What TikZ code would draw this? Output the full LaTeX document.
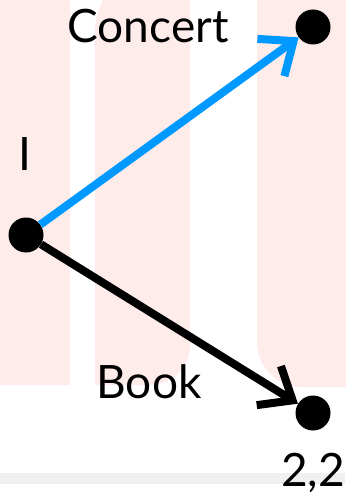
\documentclass[tikz,border=0pt]{standalone}
\usepackage{fontspec}
\setmainfont{Lato}
\usetikzlibrary{arrows.meta, positioning}
\definecolor{concertblue}{RGB}{0,153,255}
\definecolor{logopink}{RGB}{253,236,234}
\definecolor{rulegray}{RGB}{240,240,240}
\tikzstyle{move} = [line width=8pt, -{Straight Barb[length=28pt,width=46pt]}]
\tikzstyle{dot} = [circle, fill=black, minimum size=35pt, inner sep=0pt]
\tikzstyle{lbl} = [font=\fontsize{46}{50}\selectfont, inner sep=0pt, anchor=base]

\begin{document}
\begin{tikzpicture}[x=1pt,y=-1pt]
\useasboundingbox (0,0) rectangle (345,497);
% faded letters behind the tree
\fill[logopink] (70,-10) -- (70,385) [rounded corners=15pt] -- (-15,385) -- (-15,-60) -- cycle;
\fill[logopink] (95,-10) -- (95,385) [rounded corners=40pt] -- (190,385) -- (190,-60) -- cycle;
\fill[logopink, rounded corners=45pt] (257,-60) rectangle (400,387);
\fill[rulegray] (0,473) rectangle (345,484);
% decision nodes and labels
\node[dot] (root) at (26,235) {};
\node[dot] (concert) at (313,27) {};
\node[dot] (book) at (313,413) {};
\node[lbl] (player) at (25,170) {I};
\node[lbl] (concertlbl) at (148,43) {Concert};
\node[lbl] (booklbl) at (149,398) {Book};
\node[lbl] (payoff) at (313,486) {2,2};
% moves
\draw[move, concertblue] (root) -- (concert);
\draw[move] (root) -- (book);
\end{tikzpicture}
\end{document}
